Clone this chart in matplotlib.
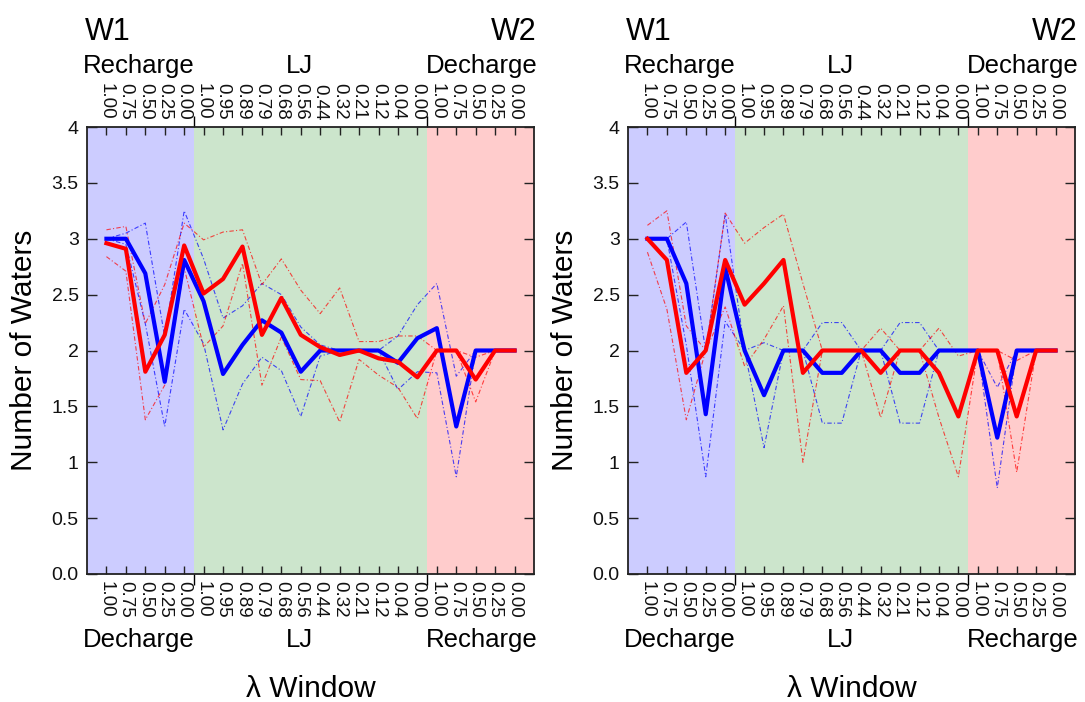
import matplotlib
matplotlib.use("Agg")
import matplotlib.pyplot as plt
import matplotlib.transforms as mtransforms
import numpy as np

plt.rcParams['font.family'] = ['Liberation Sans', 'DejaVu Sans']

# ---------------- data ----------------
lam_labels = ['1.00', '0.75', '0.50', '0.25', '0.00',
              '1.00', '0.95', '0.89', '0.79', '0.68', '0.56', '0.44',
              '0.32', '0.21', '0.12', '0.04', '0.00',
              '1.00', '0.75', '0.50', '0.25', '0.00']
windows = list(range(1, 23))

top_groups = ['Recharge', 'LJ', 'Decharge']
bottom_groups = ['Decharge', 'LJ', 'Recharge']

# left panel
left_w1_mean = [3.0, 3.0, 2.69, 1.72, 2.81, 2.44, 1.79, 2.05, 2.27, 2.16, 1.81,
                2.0, 2.0, 2.0, 2.0, 1.89, 2.11, 2.2, 1.32, 2.0, 2.0, 2.0]
left_w1_sd = [0.0, 0.05, 0.45, 0.4, 0.44, 0.38, 0.5, 0.35, 0.33, 0.34, 0.4,
              0.05, 0.0, 0.0, 0.0, 0.24, 0.3, 0.4, 0.45, 0.0, 0.0, 0.0]
left_w2_mean = [2.96, 2.91, 1.81, 2.14, 2.94, 2.51, 2.64, 2.93, 2.14, 2.47, 2.14,
                2.03, 1.96, 2.0, 1.93, 1.9, 1.76, 2.0, 2.0, 1.74, 2.0, 2.0]
left_w2_sd = [0.12, 0.2, 0.43, 0.45, 0.2, 0.48, 0.42, 0.15, 0.45, 0.35, 0.4,
              0.3, 0.6, 0.08, 0.15, 0.23, 0.37, 0.0, 0.0, 0.2, 0.0, 0.0]

# right panel
right_w1_mean = [3.0, 3.0, 2.6, 1.43, 2.74, 2.0, 1.6, 2.0, 2.0, 1.8, 1.8,
                 2.0, 2.0, 1.8, 1.8, 2.0, 2.0, 2.0, 1.22, 2.0, 2.0, 2.0]
right_w1_sd = [0.0, 0.0, 0.55, 0.56, 0.48, 0.0, 0.47, 0.0, 0.0, 0.45, 0.45,
               0.0, 0.0, 0.45, 0.45, 0.0, 0.0, 0.0, 0.45, 0.0, 0.0, 0.0]
right_w2_mean = [3.0, 2.81, 1.8, 2.0, 2.81, 2.41, 2.6, 2.81, 1.8, 2.0, 2.0,
                 2.0, 1.8, 2.0, 2.0, 1.8, 1.41, 2.0, 2.0, 1.41, 2.0, 2.0]
right_w2_sd = [0.12, 0.44, 0.42, 0.0, 0.42, 0.55, 0.5, 0.41, 0.8, 0.0, 0.0,
               0.0, 0.4, 0.0, 0.0, 0.4, 0.54, 0.0, 0.0, 0.5, 0.0, 0.0]

yticks = [0, 0.5, 1, 1.5, 2, 2.5, 3, 3.5, 4]
ytick_labels = ['0.0', '0.5', '1', '1.5', '2', '2.5', '3', '3.5', '4']

# ---------------- figure ----------------
W, H = 1085, 702
fig = plt.figure(figsize=(W / 100, H / 100), dpi=100)

def make_axes(left_px):
    return fig.add_axes([left_px / W, (H - 574) / H, 447 / W, 447 / H])

dash = (0, (4, 2, 1, 2))

def draw_panel(ax, b_mean, b_sd, r_mean, r_sd):
    x = np.array(windows, dtype=float)
    ax.axvspan(0, 5.5, color='blue', alpha=0.2, lw=0)
    ax.axvspan(5.5, 17.5, color='green', alpha=0.2, lw=0)
    ax.axvspan(17.5, 23, color='red', alpha=0.2, lw=0)

    bm, bs = np.array(b_mean), np.array(b_sd)
    rm, rs = np.array(r_mean), np.array(r_sd)
    for m, s, c in ((bm, bs, 'blue'), (rm, rs, 'red')):
        ax.plot(x, m + s, color=c, lw=0.8, ls=dash, alpha=0.7)
        ax.plot(x, m - s, color=c, lw=0.8, ls=dash, alpha=0.7)
    ax.plot(x, bm, color='blue', lw=3.0)
    ax.plot(x, rm, color='red', lw=3.0)

    ax.set_xlim(0, 23)
    ax.set_ylim(0, 4)
    ax.set_xticks(windows)
    ax.set_xticklabels(lam_labels)
    ax.set_xticks([5.5, 17.5], minor=True)
    ax.set_yticks(yticks)
    ax.set_yticklabels(ytick_labels)

    ax.tick_params(axis='x', which='major', direction='in', length=6, width=1,
                   top=True, bottom=True, labeltop=True, labelbottom=True,
                   labelrotation=270, labelsize=13.5, pad=5, colors='#222222',
                   labelcolor='#111111')
    ax.tick_params(axis='x', which='minor', direction='out', length=8, width=1,
                   top=True, bottom=True)
    ax.tick_params(axis='y', direction='in', length=7, width=1,
                   left=True, right=True, labelsize=14, pad=6, colors='#222222',
                   labelcolor='#111111')
    for sp in ax.spines.values():
        sp.set_linewidth(1.3)
        sp.set_color('#222222')

    tr = mtransforms.blended_transform_factory(ax.transData, ax.transAxes)
    gx = [2.65, 10.95, 20.3]
    for g, xx in zip(top_groups, gx):
        ax.text(xx, 1.120, g, transform=tr, ha='center', va='baseline', fontsize=18.5)
    for g, xx in zip(bottom_groups, gx):
        ax.text(xx, -0.1626, g, transform=tr, ha='center', va='baseline', fontsize=18.5)

    ax.text(-0.005, 1.195, 'W1', transform=ax.transAxes, ha='left', va='baseline', fontsize=22)
    ax.text(1.005, 1.195, 'W2', transform=ax.transAxes, ha='right', va='baseline', fontsize=22)
    ax.text(0.5, -0.2745, 'λ Window', transform=ax.transAxes, ha='center',
            va='baseline', fontsize=21.5)
    ax.text(-0.141, 0.5, 'Number of Waters', transform=ax.transAxes, ha='center',
            va='center', rotation=90, fontsize=21.5)

ax1 = make_axes(87)
draw_panel(ax1, left_w1_mean, left_w1_sd, left_w2_mean, left_w2_sd)
ax2 = make_axes(628)
draw_panel(ax2, right_w1_mean, right_w1_sd, right_w2_mean, right_w2_sd)

fig.savefig('out.png', dpi=100)
